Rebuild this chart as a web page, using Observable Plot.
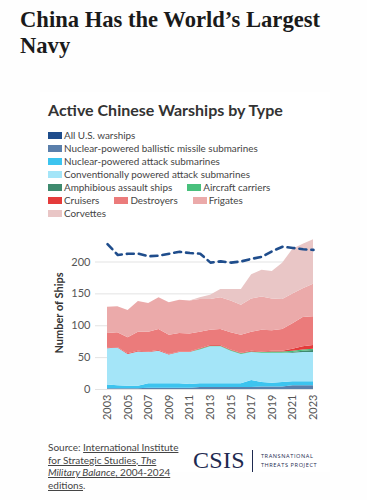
<!DOCTYPE html>
<html>
<head>
<meta charset="utf-8">
<script src="https://cdn.jsdelivr.net/npm/d3@7"></script>
<script src="https://cdn.jsdelivr.net/npm/@observablehq/plot@0.6"></script>
<style>
  html, body { margin: 0; padding: 0; background: #fefefe; }
  body { width: 367px; height: 500px; position: relative; overflow: hidden; font-family: Lato, "Open Sans", sans-serif; }
  #title { position: absolute; left: 20px; top: 7px; width: 330px; font-family: "Liberation Serif", "DejaVu Serif", serif; font-weight: bold; font-size: 22.6px; line-height: 26px; color: #1a1a1a; margin: 0; }
  #card { position: absolute; left: 40px; top: 92px; width: 290px; height: 380px; background: #ffffff; }
  #subtitle { position: absolute; left: 48px; top: 100px; font-weight: bold; font-size: 16px; color: #333; white-space: nowrap; }
  #legend { position: absolute; left: 48px; top: 129px; width: 250px; display: flex; flex-wrap: wrap; font-size: 9.9px; color: #444; line-height: 13px; }
  .item { display: flex; align-items: center; margin-right: 15px; white-space: nowrap; }
  .sw { width: 14px; height: 7px; margin-right: 2px; }
  #chart { position: absolute; left: 40px; top: 230px; }
  #source { position: absolute; left: 48px; top: 441px; font-size: 10px; line-height: 12.5px; color: #444; }
  #source a { color: #444; text-decoration: underline; }
  #logo { position: absolute; left: 193px; top: 447px; display: flex; align-items: center; }
  #csis { font-family: "Liberation Serif", serif; font-size: 24px; color: #1e2a50; letter-spacing: 0.3px; }
  #bar { width: 1px; height: 22px; background: #1e2a50; margin: 0 8px 0 7px; }
  #ttp { font-size: 5.6px; letter-spacing: 0.6px; color: #1e2a50; line-height: 9px; font-family: "Open Sans", sans-serif; }
</style>
</head>
<body>
<div id="title">China Has the World’s Largest Navy</div>
<div id="card"></div>
<div id="subtitle">Active Chinese Warships by Type</div>
<div id="legend"></div>
<div id="chart"></div>
<div id="source">Source: <a>International Institute<br>for Strategic Studies, <i>The<br>Military Balance</i>, 2004-2024<br>editions</a>.</div>
<div id="logo"><span id="csis">CSIS</span><span id="bar"></span><span id="ttp">TRANSNATIONAL<br>THREATS PROJECT</span></div>
<script>
const years = [2003,2004,2005,2006,2007,2008,2009,2010,2011,2012,2013,2014,2015,2016,2017,2018,2019,2020,2021,2022,2023];

const seriesNames = [
  "Nuclear-powered ballistic missile submarines",
  "Nuclear-powered attack submarines",
  "Conventionally powered attack submarines",
  "Amphibious assault ships",
  "Aircraft carriers",
  "Cruisers",
  "Destroyers",
  "Frigates",
  "Corvettes"
];
const seriesColors = ["#5a7fab","#3cc4ef","#a4e5f8","#3e8a6e","#48c07c","#e43b3b","#eb7b7b","#ebaaaa","#e9c6c6"];

const ssbn       = [1,1,1,1,2,2,2,2,2,3,3,3,3,3,3,4,4,4,6,6,6];
const ssn        = [6,5,4,4,7,7,7,7,6,6,6,6,6,6,11,7,6,7,6,6,6];
const ssk        = [57,59,50,54,49,51,45,49,50,53,58,58,51,46,44,46,47,46,45,46,46];
const amphibious = [0,0,0,0,0,0,0,0,0,0,0,0,0,0,0,0,0,0,1,2,3];
const carriers   = [0,0,0,0,0,0,0,0,0,1,1,1,1,1,1,1,2,2,2,2,2];
const cruisers   = [1,1,1,1,1,1,1,1,1,1,1,1,1,1,1,1,1,1,3,5,6];
const destroyers = [23,23,25,30,31,33,30,29,28,26,24,25,27,28,30,34,32,34,40,46,45];
const frigates   = [41,41,43,48,45,50,51,52,52,51,48,50,50,47,52,52,50,47,47,45,51];
const corvettes  = [0,0,0,0,0,0,0,0,0,3,7,13,18,25,38,42,43,57,70,70,70];

const usName = "All U.S. warships";
const usColor = "#1f4d8c";
const usWarships = [228,211,213,213,209,210,213,216,214,213,199,201,199,201,205,208,217,224,222,220,219];

const yTicks = [0,50,100,150,200];
const xTicks = [2003,2005,2007,2009,2011,2013,2015,2017,2019,2021,2023];

const seriesValues = [ssbn, ssn, ssk, amphibious, carriers, cruisers, destroyers, frigates, corvettes];
const stacked = [];
seriesNames.forEach((name, i) => {
  years.forEach((yr, j) => stacked.push({year: yr, type: name, value: seriesValues[i][j]}));
});
const usData = years.map((yr, j) => ({year: yr, value: usWarships[j]}));

// Legend
const legend = document.getElementById("legend");
const legendNames = [usName, ...seriesNames];
const legendColors = [usColor, ...seriesColors];
legendNames.forEach((n, i) => {
  const it = document.createElement("div");
  it.className = "item";
  it.innerHTML = `<span class="sw" style="background:${legendColors[i]}"></span><span>${n}</span>`;
  legend.appendChild(it);
});

const chart = Plot.plot({
  width: 290,
  height: 200,
  marginLeft: 55,
  marginRight: 17,
  marginTop: 6,
  marginBottom: 41,
  style: {fontFamily: "Lato, sans-serif", fontSize: "11px", color: "#555", background: "transparent"},
  x: {domain: [2003, 2023], insetLeft: 12, label: null},
  y: {domain: [0, 240], label: null},
  color: {domain: seriesNames, range: seriesColors},
  marks: [
    Plot.gridY(yTicks, {stroke: "#e3e3e3", strokeOpacity: 1}),
    Plot.areaY(stacked, Plot.stackY({order: seriesNames}, {x: "year", y: "value", z: "type", fill: "type", curve: "linear"})),
    Plot.lineY(usData, {x: "year", y: "value", stroke: usColor, strokeWidth: 2.6, strokeDasharray: "7,5"}),
    Plot.axisY(yTicks, {tickSize: 0, tickPadding: 5, label: "Number of Ships", labelAnchor: "center", labelArrow: "none", labelOffset: 40, fontSize: 11}),
    Plot.axisX(xTicks, {tickSize: 0, tickPadding: 5, tickRotate: -90, tickFormat: d => String(d), label: null, fontSize: 11})
  ]
});
document.getElementById("chart").appendChild(chart);
chart.querySelectorAll("g[aria-label='y-axis label'] text").forEach(t => {
  t.setAttribute("font-weight", "bold");
  t.setAttribute("fill", "#333");
});
</script>
</body>
</html>
